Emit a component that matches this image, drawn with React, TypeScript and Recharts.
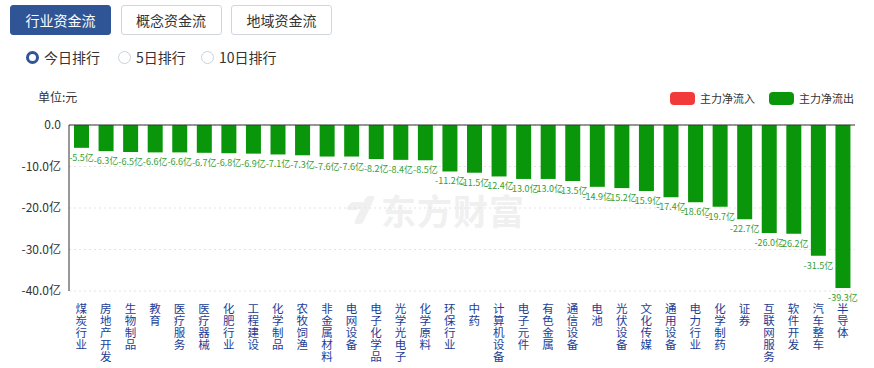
import { BarChart, Bar, XAxis, YAxis, CartesianGrid, ReferenceLine, LabelList } from 'recharts';

const categories = [
  '煤炭行业', '房地产开发', '生物制品', '教育', '医疗服务', '医疗器械', '化肥行业', '工程建设',
  '化学制品', '农牧饲渔', '非金属材料', '电网设备', '电子化学品', '光学光电子', '化学原料', '环保行业',
  '中药', '计算机设备', '电子元件', '有色金属', '通信设备', '电池', '光伏设备', '文化传媒',
  '通用设备', '电力行业', '化学制药', '证券', '互联网服务', '软件开发', '汽车整车', '半导体',
];

// 主力净流出, 亿元
const netFlow = [
  -5.5, -6.3, -6.5, -6.6, -6.6, -6.7, -6.8, -6.9, -7.1, -7.3, -7.6, -7.6, -8.2, -8.4, -8.5, -11.2,
  -11.5, -12.4, -13.0, -13.0, -13.5, -14.9, -15.2, -15.9, -17.4, -18.6, -19.7, -22.7, -26.0, -26.2, -31.5, -39.3,
];

const yTicks = [0, -10, -20, -30, -40];

const tabs = ['行业资金流', '概念资金流', '地域资金流'];
const ranks = ['今日排行', '5日排行', '10日排行'];

const FONT = '"Noto Sans CJK SC", "Noto Sans", sans-serif';
const GREEN = '#0a960a';

const data = categories.map((name, i) => ({ name, value: netFlow[i] }));

const VerticalTick = ({ x, y, payload }: any) => {
  const chars = String(payload.value).split('');
  return (
    <text x={x} y={y} textAnchor="middle" fontSize={11.5} fill="#1c3d96" fontFamily={FONT}>
      {chars.map((c, i) => (
        <tspan key={i} x={x} dy={i === 0 ? 14 : 12}>{c}</tspan>
      ))}
    </text>
  );
};

const ValueLabel = ({ x, y, width, height, value }: any) => {
  const bottom = Math.max(y, y + height);
  return (
    <text x={x + width / 2} y={bottom + 13} textAnchor="middle" fontSize={9} fill="#34a034" fontFamily={FONT}>
      {value.toFixed(1)}亿
    </text>
  );
};

const App = () => {
  return (
    <div style={{ position: 'absolute', left: 0, top: 0, width: 874, height: 368, background: '#fff', fontFamily: FONT, overflow: 'hidden' }}>
      {tabs.map((t, i) => (
        <div
          key={t}
          style={{
            position: 'absolute', left: 10 + i * 110.5, top: 5, width: 99, height: 28,
            borderRadius: 3, border: i === 0 ? '1px solid #2f5597' : '1px solid #cfd6df',
            background: i === 0 ? '#2f5597' : '#fff', color: i === 0 ? '#fff' : '#333',
            fontSize: 14, lineHeight: '28px', textAlign: 'center',
          }}
        >
          {t}
        </div>
      ))}
      {ranks.map((r, i) => {
        const left = [26, 118, 201][i];
        return (
          <div key={r} style={{ position: 'absolute', left, top: 49, height: 16, display: 'flex', alignItems: 'center', fontSize: 14, color: '#333' }}>
            <span
              style={{
                display: 'inline-block', boxSizing: 'border-box', width: 13, height: 13, borderRadius: '50%',
                border: i === 0 ? '3.5px solid #2f5597' : '1px solid #c8d2dc', background: '#fff', marginRight: 5,
              }}
            />
            {r}
          </div>
        );
      })}
      <div style={{ position: 'absolute', left: 38, top: 88, fontSize: 12, color: '#333' }}>单位:元</div>
      <div style={{ position: 'absolute', left: 670, top: 90, display: 'flex', alignItems: 'center', fontSize: 11, color: '#333' }}>
        <span style={{ display: 'inline-block', width: 25, height: 13, borderRadius: 4, background: '#f23a3a', marginRight: 5 }} />
        主力净流入
        <span style={{ display: 'inline-block', width: 25, height: 13, borderRadius: 4, background: GREEN, margin: '0 5px 0 14px' }} />
        主力净流出
      </div>
      {/* watermark */}
      <div style={{ position: 'absolute', left: 344, top: 196, width: 34, height: 28 }}>
        <div style={{ position: 'absolute', left: 4, top: 6, width: 14, height: 8, background: '#f0f0f0', transform: 'skewX(-35deg)', borderRadius: 3 }} />
        <div style={{ position: 'absolute', left: 16, top: 0, width: 9, height: 28, background: '#f0f0f0', transform: 'skewX(-25deg)', borderRadius: 3 }} />
      </div>
      <div style={{ position: 'absolute', left: 381, top: 184, fontSize: 35, fontWeight: 'bold', color: '#f0f0f0', letterSpacing: 1 }}>
        东方财富
      </div>
      <div style={{ position: 'absolute', left: 0, top: 0 }}>
        <BarChart
          width={874}
          height={368}
          data={data}
          margin={{ top: 125, right: 19, bottom: 7, left: 9 }}
          barSize={15}
        >
          <CartesianGrid vertical={false} stroke="#e3e3e3" strokeDasharray="2 3" />
          <XAxis
            dataKey="name"
            axisLine={false}
            tickLine={false}
            interval={0}
            height={70}
            tick={<VerticalTick />}
          />
          <YAxis
            width={60}
            domain={[-40, 0]}
            ticks={yTicks}
            interval={0}
            axisLine={{ stroke: '#333' }}
            tickLine={false}
            tick={{ fontSize: 12, fill: '#333', fontFamily: FONT }}
            tickFormatter={(v: number) => (v === 0 ? '0.0' : `${v.toFixed(1)}亿`)}
          />
          <ReferenceLine y={0} stroke="#333" />
          <Bar dataKey="value" fill={GREEN} isAnimationActive={false}>
            <LabelList dataKey="value" content={<ValueLabel />} />
          </Bar>
        </BarChart>
      </div>
    </div>
  );
};

export default App;
